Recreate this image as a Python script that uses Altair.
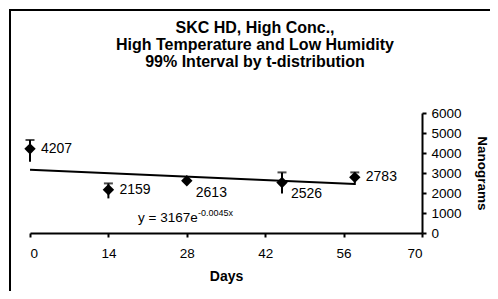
import altair as alt
import pandas as pd

days = [0, 14, 28, 45, 58]
values = [4207, 2159, 2613, 2526, 2783]
err_low = [3560, 1730, None, 1980, 2400]
err_high = [4650, 2480, None, 3030, 3030]
label_pos = ["right", "right", "below", "below", "right"]
x_ticks = [0, 14, 28, 42, 56, 70]
y_ticks = [0, 1000, 2000, 3000, 4000, 5000, 6000]
title_lines = ["SKC HD, High Conc.,", "High Temperature and Low Humidity", "99% Interval by t-distribution"]
eq_main = "y = 3167e"
eq_sup = "-0.0045x"
eq_day = [19.3]
eq_val = [750]

FONT = "Liberation Sans"

df = pd.DataFrame({"day": days, "value": values, "lo": err_low, "hi": err_high,
                   "label": [str(v) for v in values], "pos": label_pos})
eq = pd.DataFrame({"day": eq_day, "value": eq_val, "main": [eq_main], "sup": [eq_sup]})

xs = alt.Scale(domain=[0, 70], nice=False, zero=False)
ys = alt.Scale(domain=[0, 6000], nice=False)

xaxis = alt.Axis(values=x_ticks, title="Days", titleFontWeight="bold",
                 titleFontSize=14, titlePadding=10, labelPadding=9,
                 tickSize=4, labelFontSize=13.5)
yaxis = alt.Axis(orient="right", values=y_ticks, title="Nanograms", format="d",
                 titleFontWeight="bold", titleFontSize=13.5, titlePadding=13,
                 labelPadding=5, tickSize=4, labelFontSize=13.5)


def Xf():
    return alt.X("day:Q", scale=xs, axis=xaxis)


def Yf(f):
    return alt.Y(f, scale=ys, axis=yaxis)


base = alt.Chart(df)

trend = base.transform_calculate(lv="log(datum.value)").transform_regression(
    "day", "lv", method="linear", extent=[0, 58]).transform_calculate(
    value="exp(datum.lv)").mark_line(color="black", strokeWidth=2).encode(x=Xf(), y=Yf("value:Q"))

errs = base.transform_filter("isValid(datum.lo)").mark_rule(color="black", strokeWidth=2).encode(
    x=Xf(), y=Yf("lo:Q"), y2="hi:Q")
caps = base.transform_filter("isValid(datum.hi)").mark_tick(
    color="black", thickness=2, size=9, orient="horizontal").encode(x=Xf(), y=Yf("hi:Q"))

pts = base.mark_point(shape="diamond", filled=True, color="black", size=130, opacity=1).encode(
    x=Xf(), y=Yf("value:Q"))

lab_r = base.transform_filter("datum.pos == 'right'").mark_text(
    align="left", baseline="middle", dx=11, font=FONT, fontSize=14, color="black").encode(
    x=Xf(), y=Yf("value:Q"), text="label:N")
lab_b = base.transform_filter("datum.pos == 'below'").mark_text(
    align="left", baseline="middle", dx=9, dy=12, font=FONT, fontSize=14, color="black").encode(
    x=Xf(), y=Yf("value:Q"), text="label:N")

eqc = alt.Chart(eq)
eq1 = eqc.mark_text(align="left", baseline="middle", font=FONT, fontSize=13.5, color="black").encode(
    x=Xf(), y=Yf("value:Q"), text="main:N")
eq2 = eqc.mark_text(align="left", baseline="middle", dx=60, dy=-5, font=FONT, fontSize=9, color="black").encode(
    x=Xf(), y=Yf("value:Q"), text="sup:N")

one = alt.Chart(pd.DataFrame({"t": ["\n".join(title_lines)]}))
frame_v = one.mark_rule(color="black", strokeWidth=2).encode(
    x=alt.value(-20), y=alt.value(-104), y2=alt.value(200))
frame_h = one.mark_rule(color="black", strokeWidth=2).encode(
    x=alt.value(-21), x2=alt.value(500), y=alt.value(-103))
title = one.mark_text(align="center", baseline="alphabetic", lineBreak="\n", lineHeight=17,
                      font=FONT, fontSize=16, fontWeight="bold", color="black").encode(
    x=alt.value(225), y=alt.value(-80), text="t:N")

chart = alt.layer(trend, errs, caps, pts, lab_r, lab_b, eq1, eq2, frame_v, frame_h, title).properties(
    width=392, height=120,
    padding={"left": 22, "top": 105, "right": 68, "bottom": 58},
    autosize=alt.AutoSizeParams(type="none"),
    background="white",
).configure_view(stroke=None).configure_axis(
    grid=False, domainColor="black", domainWidth=2, tickColor="black", tickWidth=2,
    labelColor="black", titleColor="black", labelFont=FONT, titleFont=FONT
)

chart.save("out.html", embed_options={"renderer": "svg", "actions": False})
